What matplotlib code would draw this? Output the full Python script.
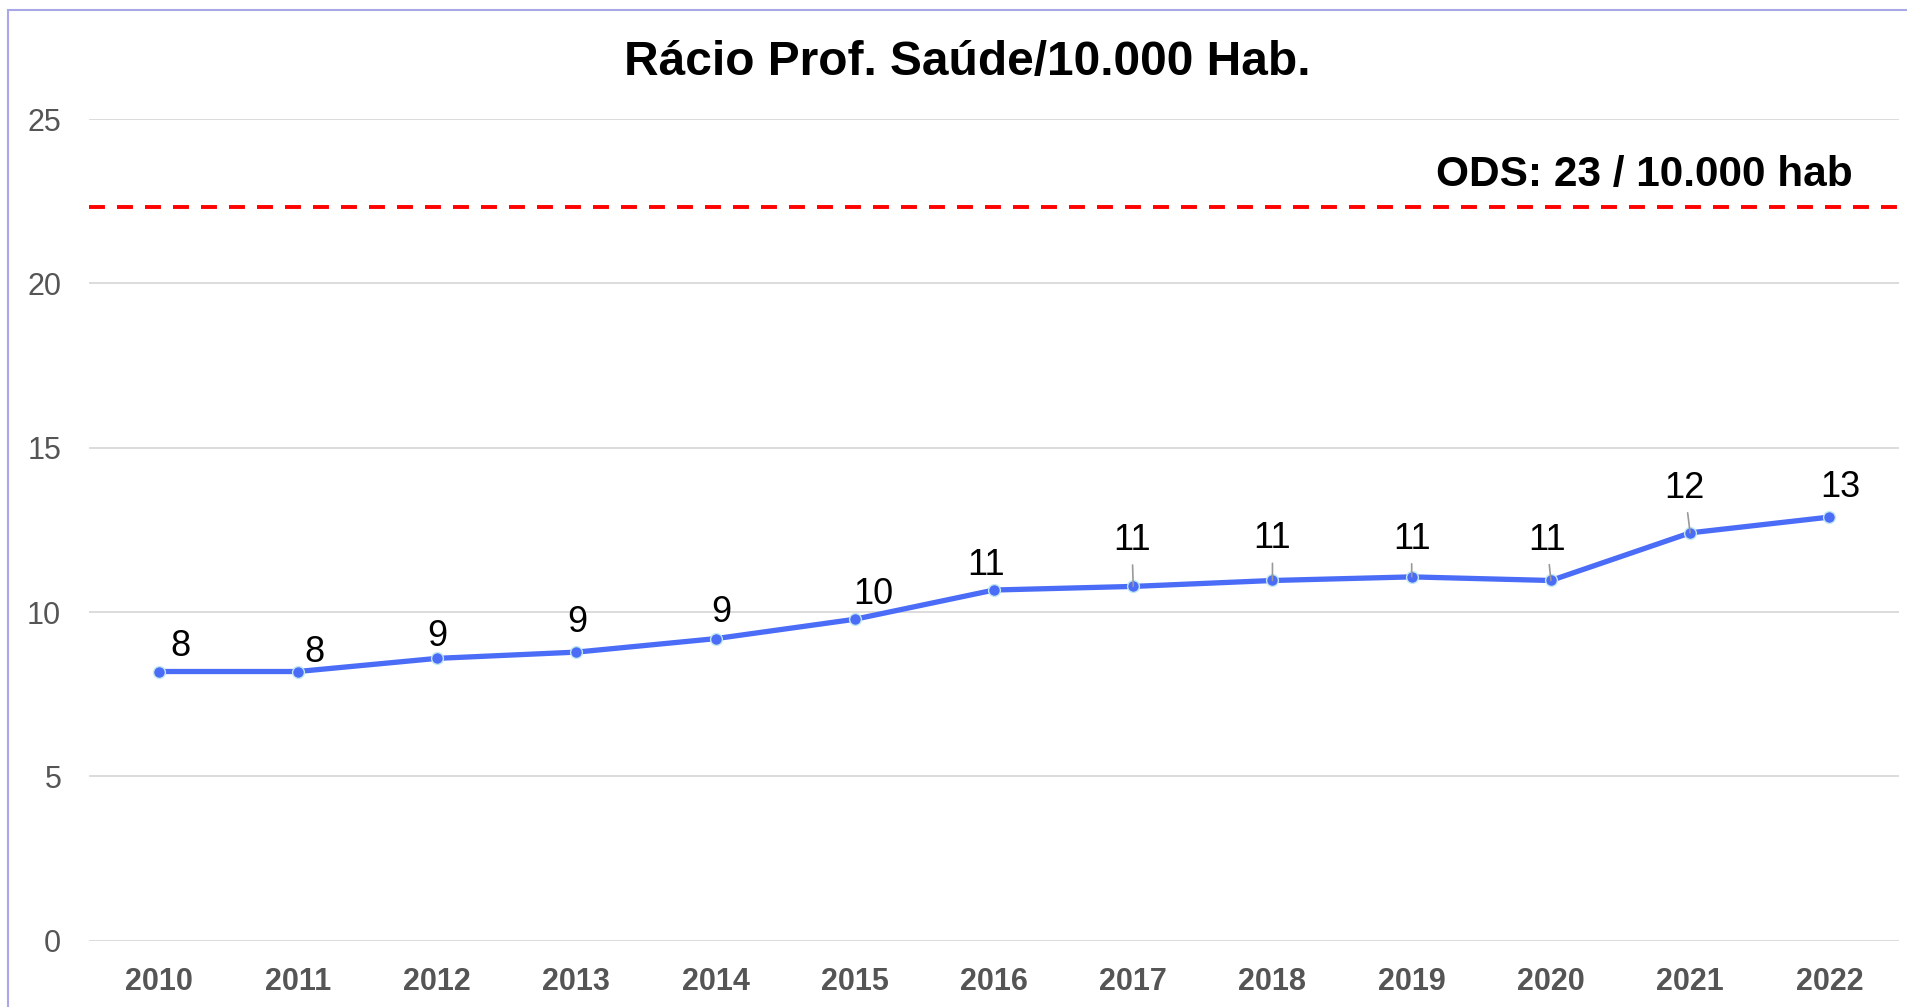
import matplotlib
matplotlib.use("Agg")
import matplotlib.pyplot as plt
from matplotlib.patches import Rectangle

# ---- data ----
years = ["2010", "2011", "2012", "2013", "2014", "2015", "2016",
         "2017", "2018", "2019", "2020", "2021", "2022"]
ratio = [8.19, 8.19, 8.59, 8.78, 9.19, 9.78, 10.67,
         10.78, 10.96, 11.07, 10.96, 12.41, 12.89]
target_value = 22.33
target_label = "ODS: 23 / 10.000 hab"
title = "Rácio Prof. Saúde/10.000 Hab."
y_ticks = [0, 5, 10, 15, 20, 25]

# label offsets (points) and leader-line flags: style only
label_offsets = [(16, 18), (12, 14), (0, 16), (1, 21), (4, 19), (13, 18), (-6, 18),
                 (-1, 33), (0, 30), (0, 27), (-3, 29), (-4, 32), (8, 21)]
leaders = [False, False, False, False, False, False, False,
           True, True, True, True, True, False]

plt.rcParams['font.family'] = ['Liberation Sans', 'DejaVu Sans']

fig = plt.figure(figsize=(19.08, 10.07), dpi=100)
ax = fig.add_axes([89 / 1908, 1 - 940.6 / 1007, (1899 - 89) / 1908, (940.6 - 119.2) / 1007])

x = list(range(len(years)))
ax.set_xlim(-0.5, len(years) - 0.5)
ax.set_ylim(0, 25)

ax.set_yticks(y_ticks)
ax.set_yticklabels([str(t) for t in y_ticks], fontsize=22, color="#555555")
ax.set_xticks(x)
ax.set_xticklabels(years, fontsize=22, fontweight="bold", color="#555555")
ax.tick_params(axis="both", length=0)
ax.tick_params(axis="y", pad=20)
ax.tick_params(axis="x", pad=19)
ax.grid(axis="y", color="#d9d9d9", linewidth=1.3)
ax.set_axisbelow(True)
for s in ax.spines.values():
    s.set_visible(False)

# target line
tl = ax.axhline(target_value, color="#ff0000", linewidth=2.8, zorder=2)
tl.set_dashes((4.1, 3.1))
ax.text(0.9746, target_value + 0.97, target_label, transform=ax.get_yaxis_transform(),
        ha="right", va="center", fontsize=30.5, fontweight="bold", color="black")

# series
ax.plot(x, ratio, color="#4a6cf7", linewidth=3.8, zorder=3,
        marker="o", markersize=8.5, markerfacecolor="#4a6cf7",
        markeredgecolor="#bfe8f0", markeredgewidth=1.0)

for xi, v, off, ld in zip(x, ratio, label_offsets, leaders):
    kw = {}
    if ld:
        kw["arrowprops"] = dict(arrowstyle="-", color="#999999", lw=1.2,
                                shrinkA=3, shrinkB=0)
    ax.annotate(f"{round(v):d}", xy=(xi, v), xytext=off, textcoords="offset points",
                ha="center", va="center", fontsize=26, color="black", zorder=4, **kw)

fig.text(967 / 1908, 1 - 62 / 1007, title, ha="center", va="center",
         fontsize=34.5, fontweight="bold", color="black")

# figure border
fig.patches.append(Rectangle((8.5 / 1908, -0.05), 1.2, 1 - 10 / 1007 + 0.05,
                             transform=fig.transFigure, fill=False,
                             edgecolor="#a8a8e8", linewidth=1.5))

fig.savefig("out.png", dpi=100, facecolor="white")
